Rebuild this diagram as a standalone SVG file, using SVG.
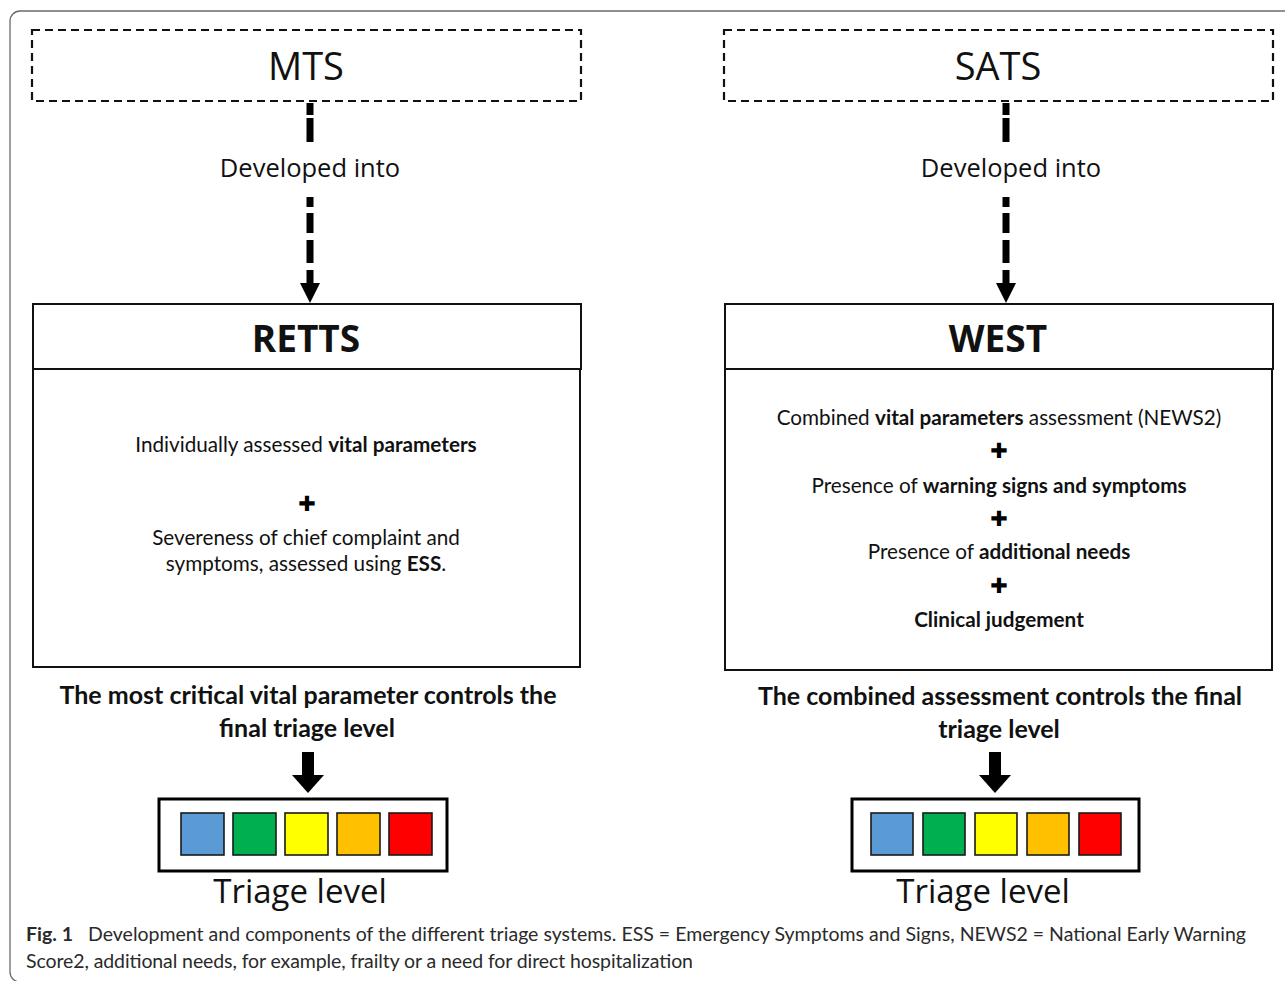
<svg xmlns="http://www.w3.org/2000/svg" width="1285" height="981" viewBox="0 0 1285 981">
<style>
.frame{fill:none;stroke:#6b6b6b;stroke-width:1.3}
.dbox{fill:#fff;stroke:#111;stroke-width:2.2;stroke-dasharray:8 5}
.box{fill:#fff;stroke:#111;stroke-width:2}
.tbox{fill:#fff;stroke:#000;stroke-width:3}
.sq{stroke:#1a1a1a;stroke-width:1.6}
.conn{fill:none;stroke:#000;stroke-width:7}
.head{fill:#000}
.seg{font-family:"Open Sans","Noto Sans",sans-serif;fill:#111;text-anchor:middle}
.title{font-size:38px}
.dev{font-size:25.5px}
.hdr{font-size:37px;font-weight:700}
.body{font-family:Lato,"Liberation Sans",sans-serif;font-size:20.7px;fill:#111;text-anchor:middle}
.b{font-weight:700}
.lbl{font-family:Lato,"Liberation Sans",sans-serif;font-size:25px;font-weight:700;fill:#111;text-anchor:middle}
.plus{font-family:"DejaVu Sans",sans-serif;font-size:21px;fill:#000;text-anchor:middle}
.tl{font-size:33px}
.cap{font-family:Lato,"Noto Sans",sans-serif;font-size:19.5px;fill:#2a2a2a}
</style>
<rect class="frame" x="10" y="11" width="1300" height="971" rx="10"/>

<g id="connectors">
  <path class="conn" d="M310 103V115M310 118V142M310 197V207M310 213V233M310 240V263M310 270V284"/>
  <polygon class="head" points="300,283 320,283 310,303"/>
  <path class="conn" d="M1006 103V115M1006 118V142M1006 197V207M1006 213V233M1006 240V263M1006 270V284"/>
  <polygon class="head" points="996,283 1016,283 1006,303"/>
  <rect class="head" x="302" y="752" width="12" height="24"/>
  <polygon class="head" points="292,775 324,775 308,793"/>
  <rect class="head" x="989" y="752" width="12" height="24"/>
  <polygon class="head" points="979,775 1011,775 995,793"/>
</g>

<g id="mts">
  <rect class="dbox" x="32" y="30" width="549" height="71"/>
  <text class="seg title" x="306" y="80">MTS</text>
</g>
<g id="sats">
  <rect class="dbox" x="724" y="30" width="549" height="71"/>
  <text class="seg title" x="998" y="80">SATS</text>
</g>
<g id="label-left">
  <text class="seg dev" x="310" y="177">Developed into</text>
</g>
<g id="label-right">
  <text class="seg dev" x="1011" y="177">Developed into</text>
</g>

<g id="retts">
  <rect class="box" x="33" y="369" width="547" height="298"/>
  <rect class="box" x="33" y="304" width="548" height="65"/>
  <text class="seg hdr" x="306" y="352">RETTS</text>
  <text class="body" x="306" y="452">Individually assessed <tspan class="b">vital parameters</tspan></text>
  <text class="plus" x="307" y="511">✚</text>
  <text class="body" x="306" y="545">Severeness of chief complaint and</text>
  <text class="body" x="306" y="571">symptoms, assessed using <tspan class="b">ESS</tspan>.</text>
</g>

<g id="west">
  <rect class="box" x="725" y="369" width="547" height="301"/>
  <rect class="box" x="725" y="304" width="548" height="65"/>
  <text class="seg hdr" x="998" y="352">WEST</text>
  <text class="body" x="999" y="425">Combined <tspan class="b">vital parameters</tspan> assessment (NEWS2)</text>
  <text class="plus" x="999" y="458">✚</text>
  <text class="body" x="999" y="493">Presence of <tspan class="b">warning signs and symptoms</tspan></text>
  <text class="plus" x="999" y="526">✚</text>
  <text class="body" x="999" y="559">Presence of <tspan class="b">additional needs</tspan></text>
  <text class="plus" x="999" y="593">✚</text>
  <text class="body b" x="999" y="627">Clinical judgement</text>
</g>

<g id="result-left">
  <text class="lbl" x="308" y="704">The most critical vital parameter controls the</text>
  <text class="lbl" x="307" y="737">final triage level</text>
</g>
<g id="result-right">
  <text class="lbl" x="1000" y="705">The combined assessment controls the final</text>
  <text class="lbl" x="999" y="738">triage level</text>
</g>

<g id="triage-left">
  <rect class="tbox" x="159" y="799" width="288" height="72"/>
  <rect class="sq" x="181" y="813" width="43" height="42" fill="#5b9bd5"/>
  <rect class="sq" x="233" y="813" width="43" height="42" fill="#00b050"/>
  <rect class="sq" x="285" y="813" width="43" height="42" fill="#ffff00"/>
  <rect class="sq" x="337" y="813" width="43" height="42" fill="#ffc000"/>
  <rect class="sq" x="389" y="813" width="43" height="42" fill="#ff0000"/>
  <text class="seg tl" x="300" y="903">Triage level</text>
</g>
<g id="triage-right">
  <rect class="tbox" x="852" y="799" width="287" height="72"/>
  <rect class="sq" x="871" y="813" width="42" height="42" fill="#5b9bd5"/>
  <rect class="sq" x="923" y="813" width="42" height="42" fill="#00b050"/>
  <rect class="sq" x="975" y="813" width="42" height="42" fill="#ffff00"/>
  <rect class="sq" x="1027" y="813" width="42" height="42" fill="#ffc000"/>
  <rect class="sq" x="1079" y="813" width="42" height="42" fill="#ff0000"/>
  <text class="seg tl" x="983" y="903">Triage level</text>
</g>

<g id="caption">
  <text class="cap" x="26" y="941"><tspan class="b">Fig. 1</tspan></text>
  <text class="cap" x="88" y="941" textLength="1158" lengthAdjust="spacing">Development and components of the different triage systems. ESS = Emergency Symptoms and Signs, NEWS2 = National Early Warning</text>
  <text class="cap" x="26" y="968" textLength="667" lengthAdjust="spacing">Score2, additional needs, for example, frailty or a need for direct hospitalization</text>
</g>
</svg>
